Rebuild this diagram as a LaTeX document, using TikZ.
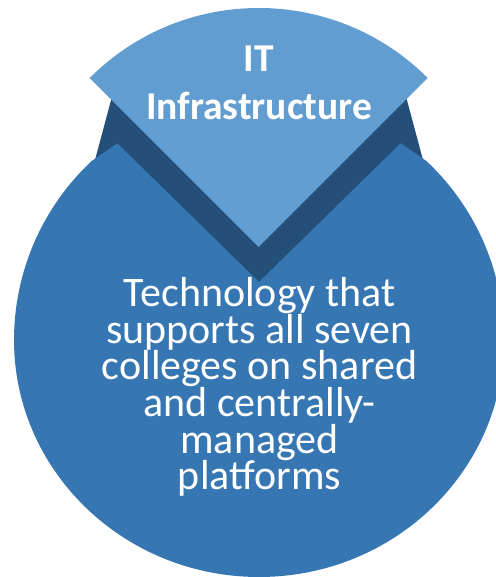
\documentclass[tikz,border=0pt]{standalone}
\usepackage{fontspec}
\setmainfont{Carlito}
\definecolor{wedgelight}{HTML}{629DD1}
\definecolor{bodyblue}{HTML}{3676B2}
\definecolor{darkband}{HTML}{244F78}
\begin{document}
\begin{tikzpicture}[x=1pt,y=1pt,
  titletext/.style={text=white,align=center,inner sep=0pt,
    font={\fontsize{39.5}{48}\selectfont\bfseries\lineskiplimit=-100pt}},
  bodytext/.style={text=white,align=center,inner sep=0pt,
    font={\fontsize{42}{36.7}\selectfont\lineskiplimit=-100pt}}]
\useasboundingbox (0,0) rectangle (495,577);
% dark band (depth behind the wedge)
\fill[darkband] (111.6,479) -- (93.4,411) -- (259,277) -- (424.6,411) -- (406.4,479) -- (259,377) -- cycle;
% main body with cut-out
\fill[bodyblue] (117.3,433.7) -- (259,295) -- (400.7,433.7) -- (426.1,416.2)
  arc[start angle=47,end angle=0,radius=245]
  arc[start angle=0,end angle=-180,x radius=245,y radius=237]
  arc[start angle=180,end angle=133,radius=245] -- cycle;
% light sector on top
\fill[wedgelight] (258.7,330) -- ++(45:239) arc[start angle=45,end angle=135,radius=239] -- cycle;
\node[titletext,anchor=base] (title) at (259,457) {IT\\Infrastructure};
\node[bodytext,anchor=base] (body) at (259.5,87) {Technology that\\supports all seven\\colleges on shared\\and centrally-\\managed\\platforms};
\end{tikzpicture}
\end{document}
